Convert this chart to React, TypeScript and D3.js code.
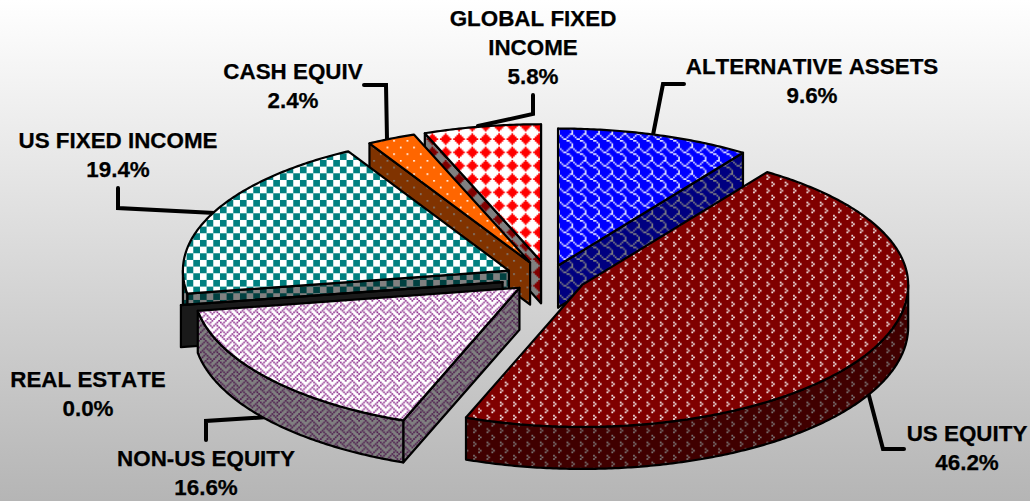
import React from "react";
import * as d3 from "d3";

// Portfolio allocation, listed clockwise from twelve o'clock.
const categories = ["ALTERNATIVE ASSETS", "US EQUITY", "NON-US EQUITY", "REAL ESTATE", "US FIXED INCOME", "CASH EQUIV", "GLOBAL FIXED INCOME"];
const allocation = [9.6, 46.2, 16.6, 0.0, 19.4, 2.4, 5.8];
const labelLines = [["ALTERNATIVE ASSETS"], ["US EQUITY"], ["NON-US EQUITY"], ["REAL ESTATE"], ["US FIXED INCOME"], ["CASH EQUIV"], ["GLOBAL FIXED", "INCOME"]];

// Per-slice pull-out from the pie centre, horizontally and vertically.
const explodeX = [44, 42, 33, 43, 40, 35, 22];
const explodeY = [12, 17, 17, 31, 15, 16, 16];

// Label anchors: centre x and baseline of the first line.
const labelX = [812, 967, 206, 88, 118, 293, 533];
const labelY = [74, 441, 466, 387, 148, 79, 26];

// Elbow leader lines, one per labelled slice.
const leaders: Record<string, [number, number][]> = {
  "ALTERNATIVE ASSETS": [[653, 135], [663, 84], [684, 84]],
  "US EQUITY": [[868, 392], [883, 449], [904, 449]],
  "NON-US EQUITY": [[206, 440], [206, 421], [268, 417]],
  "US FIXED INCOME": [[118, 188], [118, 208], [215, 213]],
  "CASH EQUIV": [[364, 85], [386, 85], [387, 139]],
  "GLOBAL FIXED INCOME": [[533, 95], [533, 114], [478, 126]],
};

// 8x8 hatch bitmaps, one row per byte.
const hatchBits: Record<string, number[]> = {
  shingle: [0x03, 0x84, 0x48, 0x30, 0x0c, 0x02, 0x01, 0x01],
  divot: [0x00, 0x08, 0x04, 0x08, 0x00, 0x01, 0x80, 0x01],
  weave: [0x11, 0x2a, 0x44, 0xa2, 0x11, 0x28, 0x44, 0x8a],
  checker: [0xf0, 0xf0, 0xf0, 0xf0, 0x0f, 0x0f, 0x0f, 0x0f],
  sparse: [0x80, 0x00, 0x00, 0x00, 0x08, 0x00, 0x00, 0x00],
  diamond: [0x10, 0x38, 0x7c, 0xfe, 0x7c, 0x38, 0x10, 0x00],
  none: [0, 0, 0, 0, 0, 0, 0, 0],
};

const sliceHatch = ["shingle", "divot", "weave", "none", "checker", "sparse", "diamond"];
const topInk = ["#e6e6ff", "#ffffff", "#8b2a8b", "#1a1a1a", "#008080", "#ffffff", "#ff0000"];
const topPaper = ["#0000ff", "#800000", "#ffffff", "#1a1a1a", "#ffffff", "#ff6600", "#ffffff"];
const wallInk = ["#808080", "#808080", "#4d1a4d", "#1a1a1a", "#004040", "#808080", "#800000"];
const wallPaper = ["#000080", "#400000", "#808080", "#1a1a1a", "#808080", "#803300", "#808080"];

// Painter's order: back slices first.
const paintOrder = [6, 5, 4, 3, 2, 0, 1];

const WIDTH = 1030;
const HEIGHT = 501;
const CX = 545;
const CY = 277;
const RX = 326;
const RY_BACK = 137;
const RY_FRONT = 142;
const DEPTH = 42;
const CELL = 13.33 / 8;

const angle = d3.scaleLinear().domain([0, 100]).range([0, 2 * Math.PI]);
const ends = Array.from(d3.cumsum(allocation));
const starts = ends.map((e, i) => e - allocation[i]);

function apex(i: number): [number, number] {
  const mid = angle((starts[i] + ends[i]) / 2);
  return [CX + explodeX[i] * Math.sin(mid), CY - explodeY[i] * Math.cos(mid)];
}

function rimPoint(i: number, t: number): [number, number] {
  const [ax, ay] = apex(i);
  const c = Math.cos(t);
  return [ax + RX * Math.sin(t), ay - (c > 0 ? RY_BACK : RY_FRONT) * c];
}

function sweep(a: number, b: number): number[] {
  if (b <= a) return [a];
  return [...d3.range(a, b, 0.01), b];
}

const line = d3.line<[number, number]>();
const drop = (p: [number, number]): [number, number] => [p[0], p[1] + DEPTH];

function topPath(i: number): string {
  const rim = sweep(angle(starts[i]), angle(ends[i])).map((t) => rimPoint(i, t));
  return line([apex(i), ...rim])! + "Z";
}

function radialWall(i: number, t: number): string {
  const a = apex(i);
  const r = rimPoint(i, t);
  return line([a, r, drop(r), drop(a)])! + "Z";
}

function outerWall(i: number): string | null {
  const a = Math.max(angle(starts[i]), Math.PI / 2);
  const b = Math.min(angle(ends[i]), (3 * Math.PI) / 2);
  if (b <= a) return null;
  const rim = sweep(a, b).map((t) => rimPoint(i, t));
  return line([...rim, ...rim.map(drop).reverse()])! + "Z";
}

// A cut face only shows when the slice's top does not hide it.
const startFaceShows = (t: number) => Math.sin(t) <= 1e-9;
const endFaceShows = (t: number) => Math.sin(t) >= -1e-9;

function Hatch({ id, bits, ink, paper }: { id: string; bits: number[]; ink: string; paper: string }) {
  const cells = bits.flatMap((row, y) =>
    d3.range(8)
      .filter((x) => row & (0x80 >> x))
      .map((x) => `M${x * CELL} ${y * CELL}h${CELL}v${CELL}h${-CELL}Z`)
  );
  return (
    <pattern id={id} patternUnits="userSpaceOnUse" width={CELL * 8} height={CELL * 8}>
      <rect width={CELL * 8} height={CELL * 8} fill={paper} />
      <path d={cells.join("")} fill={ink} />
    </pattern>
  );
}

export default function App() {
  const pct = d3.format(".1f");
  const edge = { stroke: "#000", strokeWidth: 2.2, strokeLinejoin: "round" as const };
  return (
    <svg width={WIDTH} height={HEIGHT} viewBox={`0 0 ${WIDTH} ${HEIGHT}`} style={{ position: "absolute", left: 0, top: 0 }}>
      <defs>
        <linearGradient id="backdrop" x1="0" y1="0" x2="0" y2="1">
          <stop offset="0" stopColor="#ffffff" />
          <stop offset="1" stopColor="#b5b5b5" />
        </linearGradient>
        {categories.map((_, i) => (
          <Hatch key={`t${i}`} id={`top${i}`} bits={hatchBits[sliceHatch[i]]} ink={topInk[i]} paper={topPaper[i]} />
        ))}
        {categories.map((_, i) => (
          <Hatch key={`w${i}`} id={`wall${i}`} bits={hatchBits[sliceHatch[i]]} ink={wallInk[i]} paper={wallPaper[i]} />
        ))}
      </defs>
      <rect width={WIDTH} height={HEIGHT} fill="url(#backdrop)" />

      {Object.values(leaders).map((pts, i) => (
        <path key={i} d={line(pts)!} fill="none" stroke="#000" strokeWidth={4} strokeLinejoin="miter" strokeLinecap="round" />
      ))}

      {paintOrder.map((i) => {
        const outer = outerWall(i);
        const a = angle(starts[i]);
        const b = angle(ends[i]);
        return (
          <g key={categories[i]}>
            {startFaceShows(a) && <path d={radialWall(i, a)} fill={`url(#wall${i})`} {...edge} />}
            {endFaceShows(b) && <path d={radialWall(i, b)} fill={`url(#wall${i})`} {...edge} />}
            {outer && <path d={outer} fill={`url(#wall${i})`} {...edge} />}
            <path d={topPath(i)} fill={`url(#top${i})`} {...edge} />
          </g>
        );
      })}

      {categories.map((name, i) => (
        <text key={name} x={labelX[i]} y={labelY[i]} textAnchor="middle" fontFamily="'Liberation Sans', Arial, sans-serif" fontWeight="bold" fontSize={22.4} fill="#000" stroke="#000" strokeWidth={0.25} style={{ fontKerning: "none" }}>
          {[...labelLines[i], `${pct(allocation[i])}%`].map((t, k) => (
            <tspan key={k} x={labelX[i]} dy={k === 0 ? 0 : 29}>{t}</tspan>
          ))}
        </text>
      ))}
    </svg>
  );
}
